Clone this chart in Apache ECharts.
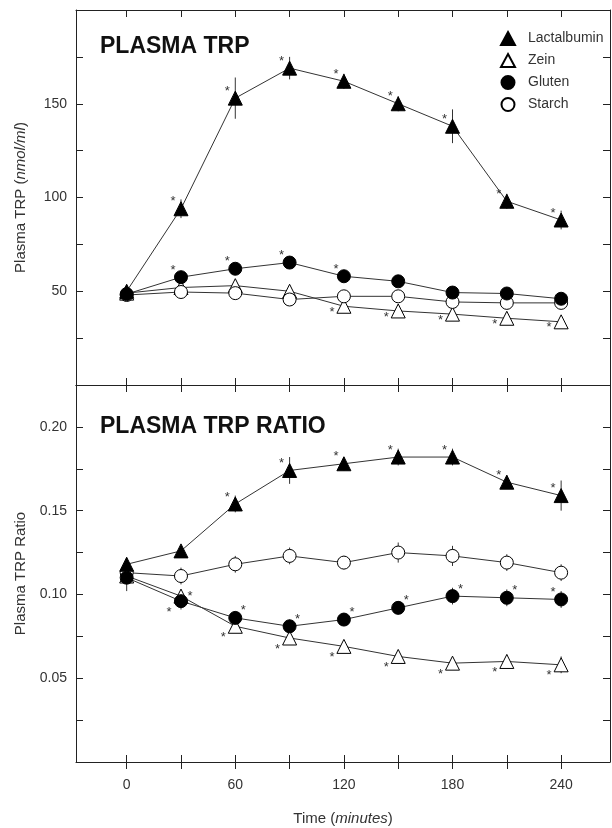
<!DOCTYPE html>
<html>
<head>
<meta charset="utf-8">
<script src="https://cdn.jsdelivr.net/npm/echarts@6/dist/echarts.min.js"></script>
<style>
  html, body { margin: 0; padding: 0; background: #fff; }
  #chart { width: 612px; height: 828px; }
</style>
</head>
<body>
<div id="chart"></div>
<script>
// time points (minutes)
var times = [0, 30, 60, 90, 120, 150, 180, 210, 240];
var xTicks = [0, 30, 60, 90, 120, 150, 180, 210, 240];
var xLabels = [0, 60, 120, 180, 240];
var groups = ['Lactalbumin', 'Zein', 'Gluten', 'Starch'];

// PLASMA TRP (nmol/ml)
var trpLact   = [50, 94, 153, 169, 162, 150, 138, 98, 88];
var trpZein   = [49, 52, 53, 50, 42, 39.5, 37.8, 35.6, 33.7];
var trpGluten = [48.5, 57.5, 62, 65.3, 58, 55.3, 49.3, 48.8, 46];
var trpStarch = [48, 49.6, 49, 45.6, 47.3, 47.3, 44.3, 43.8, 43.8];
var trpLactErr   = [2, 5, 11, 6, 4, 4, 9, 4, 5];
var trpZeinErr   = [2, 2, 2, 2, 3, 3, 3, 3, 3];
var trpGlutenErr = [2, 2, 2, 2, 2, 2, 2, 2, 2];
var trpStarchErr = [3, 2, 2, 2, 2, 2, 2, 2, 2];
// significance marks: '' none, ul upper-left, ur upper-right, l left, ll lower-left, r right
var trpLactSig   = ['', 'ul', 'ul', 'ul', 'ul', 'ul', 'ul', 'ul', 'ul'];
var trpZeinSig   = ['', '', '', '', 'l', 'l', 'l', 'l', 'l'];
var trpGlutenSig = ['', 'ul', 'ul', 'ul', 'ul', '', '', '', ''];
var trpStarchSig = ['', '', '', '', '', '', '', '', ''];

// PLASMA TRP RATIO
var ratLact   = [0.118, 0.126, 0.154, 0.174, 0.178, 0.182, 0.182, 0.167, 0.159];
var ratZein   = [0.111, 0.099, 0.081, 0.074, 0.069, 0.063, 0.059, 0.060, 0.058];
var ratGluten = [0.110, 0.096, 0.086, 0.081, 0.085, 0.092, 0.099, 0.098, 0.097];
var ratStarch = [0.113, 0.111, 0.118, 0.123, 0.119, 0.125, 0.123, 0.119, 0.113];
var ratLactErr   = [0.004, 0.003, 0.005, 0.008, 0.004, 0.005, 0.005, 0.004, 0.009];
var ratZeinErr   = [0.004, 0.004, 0.004, 0.004, 0.003, 0.003, 0.003, 0.004, 0.005];
var ratGlutenErr = [0.008, 0.005, 0.004, 0.004, 0.003, 0.004, 0.005, 0.005, 0.005];
var ratStarchErr = [0.004, 0.005, 0.005, 0.005, 0.004, 0.006, 0.006, 0.005, 0.005];
var ratLactSig   = ['', '', 'ul', 'ul', 'ul', 'ul', 'ul', 'ul', 'ul'];
var ratZeinSig   = ['', 'r', 'll', 'll', 'll', 'll', 'll', 'll', 'll'];
var ratGlutenSig = ['', 'll', 'ur', 'ur', 'ur', 'ur', 'ur', 'ur', 'ul'];
var ratStarchSig = ['', '', '', '', '', '', '', '', ''];

var STYLE = {
  Lactalbumin: { symbol: 'triangle', fill: '#000', size: 14 },
  Zein:        { symbol: 'triangle', fill: '#fff', size: 14 },
  Gluten:      { symbol: 'circle',   fill: '#000', size: 13 },
  Starch:      { symbol: 'circle',   fill: '#fff', size: 13 }
};
var SIG_OFFSET = { ul: [-8, -7], ur: [8, -7], l: [-12, 6], ll: [-12, 11], r: [9, 0] };
var FONT = 'Arial, "Liberation Sans", sans-serif';

function pairs(vals) {
  return times.map(function (t, i) { return [t, vals[i]]; });
}

function makeSeries(name, vals, errs, sig, axis) {
  var st = STYLE[name];
  var out = [];
  out.push({
    type: 'line', name: name + '-line', xAxisIndex: axis, yAxisIndex: axis,
    data: pairs(vals), showSymbol: false, z: 2, silent: true,
    lineStyle: { color: '#333', width: 1 }
  });
  out.push({
    type: 'custom', name: name + '-err', xAxisIndex: axis, yAxisIndex: axis, z: 3,
    data: times.map(function (t, i) { return [t, vals[i], errs[i]]; }),
    renderItem: function (params, api) {
      var lo = api.coord([api.value(0), api.value(1) - api.value(2)]);
      var hi = api.coord([api.value(0), api.value(1) + api.value(2)]);
      return {
        type: 'line',
        shape: { x1: lo[0], y1: lo[1], x2: hi[0], y2: hi[1] },
        style: { stroke: '#333', lineWidth: 1 }
      };
    }
  });
  out.push({
    type: 'custom', name: name + '-sig', xAxisIndex: axis, yAxisIndex: axis, z: 5,
    data: times.map(function (t, i) { return [t, vals[i], i]; }),
    renderItem: function (params, api) {
      var code = sig[api.value(2)];
      if (!code) return null;
      var p = api.coord([api.value(0), api.value(1)]);
      var o = SIG_OFFSET[code];
      return {
        type: 'text',
        style: {
          x: p[0] + o[0], y: p[1] + o[1], text: '*',
          fill: '#333', font: '13px ' + FONT,
          textAlign: 'center', textVerticalAlign: 'middle'
        }
      };
    }
  });
  out.push({
    type: 'scatter', name: name, xAxisIndex: axis, yAxisIndex: axis, z: 4,
    data: pairs(vals), symbol: st.symbol, symbolSize: st.size,
    itemStyle: { color: st.fill, borderColor: '#000', borderWidth: 1, opacity: 1 }
  });
  return out;
}

var series = [].concat(
  makeSeries('Zein', trpZein, trpZeinErr, trpZeinSig, 0),
  makeSeries('Starch', trpStarch, trpStarchErr, trpStarchSig, 0),
  makeSeries('Gluten', trpGluten, trpGlutenErr, trpGlutenSig, 0),
  makeSeries('Lactalbumin', trpLact, trpLactErr, trpLactSig, 0),
  makeSeries('Zein', ratZein, ratZeinErr, ratZeinSig, 1),
  makeSeries('Starch', ratStarch, ratStarchErr, ratStarchSig, 1),
  makeSeries('Gluten', ratGluten, ratGlutenErr, ratGlutenSig, 1),
  makeSeries('Lactalbumin', ratLact, ratLactErr, ratLactSig, 1)
);
// invisible series to host the outward ticks of the bottom axis
series.push({ type: 'line', xAxisIndex: 4, yAxisIndex: 4, data: [], silent: true });

var axisLine = { show: true, onZero: false, lineStyle: { color: '#222', width: 1 } };

function xAxisDef(grid, pos, opts) {
  var a = {
    type: 'value', gridIndex: grid, position: pos, min: -28, max: 267,
    axisLine: axisLine, splitLine: { show: false },
    axisTick: { show: true, inside: true, length: 7, customValues: xTicks, lineStyle: { color: '#222' } },
    axisLabel: { show: false }
  };
  for (var k in opts) a[k] = opts[k];
  return a;
}

function yAxisDef(grid, pos, max, interval, opts) {
  var a = {
    type: 'value', gridIndex: grid, position: pos, min: 0, max: max, interval: interval,
    axisLine: axisLine, splitLine: { show: false },
    axisTick: { show: true, inside: true, length: 7, lineStyle: { color: '#222' } },
    axisLabel: { show: false }
  };
  for (var k in opts) a[k] = opts[k];
  return a;
}

var option = {
  animation: false,
  backgroundColor: '#fff',
  textStyle: { fontFamily: FONT },
  title: [
    { text: 'PLASMA TRP', left: 95, top: 30,
      textStyle: { fontSize: 23, fontWeight: 'bold', color: '#111', fontFamily: FONT } },
    { text: 'PLASMA TRP RATIO', left: 95, top: 410,
      textStyle: { fontSize: 23, fontWeight: 'bold', color: '#111', fontFamily: FONT } }
  ],
  legend: {
    orient: 'vertical', left: 495, top: 26,
    itemWidth: 14, itemHeight: 13, itemGap: 7,
    textStyle: { fontSize: 14, color: '#333', fontFamily: FONT, padding: [0, 0, 0, 8] },
    data: [
      { name: 'Lactalbumin', icon: 'triangle' },
      { name: 'Zein', icon: 'triangle' },
      { name: 'Gluten', icon: 'circle' },
      { name: 'Starch', icon: 'circle' }
    ]
  },
  grid: [
    { left: 76, top: 10, width: 534, height: 375, show: false },
    { left: 76, top: 385, width: 534, height: 377, show: false },
    { left: 76, top: 385, width: 534, height: 377, show: false }
  ],
  xAxis: [
    xAxisDef(0, 'bottom', {}),
    xAxisDef(1, 'bottom', {
      axisLabel: { show: true, margin: 16, customValues: xLabels, color: '#333', fontSize: 14, fontFamily: FONT },
      name: 'Time ({i|minutes})', nameLocation: 'middle', nameGap: 49,
      nameTextStyle: { fontSize: 15, color: '#333', fontFamily: FONT,
        rich: { i: { fontStyle: 'italic', fontSize: 15, color: '#333', fontFamily: FONT } } }
    }),
    xAxisDef(0, 'top', {}),
    xAxisDef(1, 'top', {}),
    xAxisDef(2, 'bottom', {
      axisLine: { show: false },
      axisTick: { show: true, inside: false, length: 7, customValues: xTicks, lineStyle: { color: '#222' } }
    })
  ],
  yAxis: [
    yAxisDef(0, 'left', 200, 25, {
      axisLabel: {
        show: true, margin: 9, color: '#333', fontSize: 14, fontFamily: FONT,
        formatter: function (v) { return (v % 50 === 0 && v > 0 && v < 200) ? String(v) : ''; }
      },
      name: 'Plasma TRP ({i|nmol/ml})', nameLocation: 'middle', nameGap: 48,
      nameTextStyle: { fontSize: 15, color: '#333', fontFamily: FONT,
        rich: { i: { fontStyle: 'italic', fontSize: 15, color: '#333', fontFamily: FONT } } }
    }),
    yAxisDef(1, 'left', 0.225, 0.025, {
      axisLabel: {
        show: true, margin: 9, color: '#333', fontSize: 14, fontFamily: FONT,
        formatter: function (v) {
          var m = Math.round(v * 1000);
          return (m % 50 === 0 && m > 0) ? v.toFixed(2) : '';
        }
      },
      name: 'Plasma TRP Ratio', nameLocation: 'middle', nameGap: 48,
      nameTextStyle: { fontSize: 15, color: '#333', fontFamily: FONT }
    }),
    yAxisDef(0, 'right', 200, 25, {}),
    yAxisDef(1, 'right', 0.225, 0.025, {}),
    yAxisDef(2, 'left', 0.225, 0.025, { show: false })
  ],
  series: series
};

// line/err/sig series use axis pair 0 (top) or 1 (bottom); right/top axes only draw the frame
var myChart = echarts.init(document.getElementById('chart'));
myChart.setOption(option);
</script>
</body>
</html>
